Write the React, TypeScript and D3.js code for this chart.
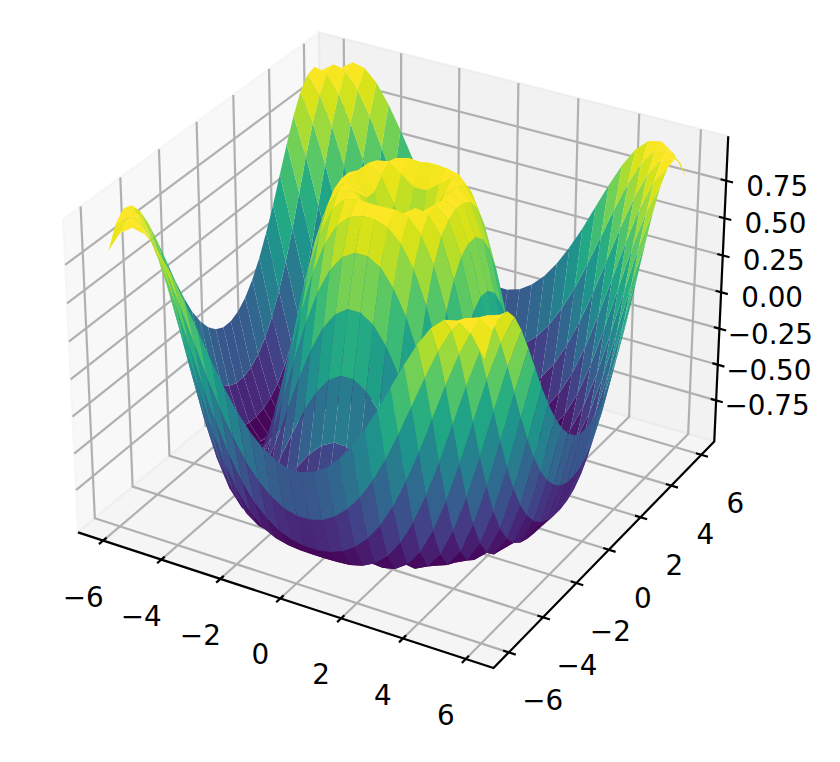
import { useEffect, useRef } from "react";
import * as d3 from "d3";

// grid positions on both horizontal axes
const gridPositions = [
  -6.0, -5.586, -5.172, -4.759, -4.345, -3.931, -3.517, -3.103, -2.69, -2.276,
  -1.862, -1.448, -1.034, -0.621, -0.207, 0.207, 0.621, 1.034, 1.448, 1.862,
  2.276, 2.69, 3.103, 3.517, 3.931, 4.345, 4.759, 5.172, 5.586, 6.0,
];

// surface heights for one quadrant, centre outwards; the surface mirrors around 0
const quadrantHeights = [
  [0.288, 0.608, 0.87, 0.994, 0.954, 0.756, 0.43, 0.032, -0.372, -0.714, -0.935, -0.999, -0.894, -0.639, -0.275],
  [0.608, 0.769, 0.934, 1.0, 0.924, 0.705, 0.373, -0.023, -0.418, -0.745, -0.949, -0.996, -0.879, -0.615, -0.248],
  [0.87, 0.934, 0.994, 0.978, 0.848, 0.598, 0.258, -0.129, -0.5, -0.799, -0.97, -0.988, -0.847, -0.566, -0.193],
  [0.994, 1.0, 0.978, 0.888, 0.705, 0.43, 0.087, -0.28, -0.614, -0.868, -0.991, -0.966, -0.791, -0.49, -0.11],
  [0.954, 0.924, 0.848, 0.705, 0.486, 0.199, -0.129, -0.459, -0.745, -0.935, -1.0, -0.922, -0.707, -0.385, -0.001],
  [0.756, 0.705, 0.598, 0.43, 0.199, -0.077, -0.372, -0.65, -0.868, -0.986, -0.981, -0.847, -0.591, -0.248, 0.134],
  [0.43, 0.373, 0.258, 0.087, -0.129, -0.372, -0.614, -0.823, -0.96, -0.999, -0.922, -0.729, -0.438, -0.083, 0.285],
  [0.032, -0.023, -0.129, -0.28, -0.459, -0.65, -0.823, -0.949, -0.999, -0.956, -0.81, -0.566, -0.248, 0.107, 0.455],
  [-0.372, -0.418, -0.5, -0.614, -0.745, -0.868, -0.96, -0.999, -0.966, -0.847, -0.639, -0.358, -0.028, 0.313, 0.622],
  [-0.714, -0.745, -0.799, -0.868, -0.935, -0.986, -0.999, -0.956, -0.847, -0.662, -0.412, -0.11, 0.212, 0.521, 0.777],
  [-0.935, -0.949, -0.97, -0.991, -1.0, -0.981, -0.922, -0.81, -0.639, -0.412, -0.138, 0.16, 0.455, 0.714, 0.902],
  [-0.999, -0.996, -0.988, -0.966, -0.922, -0.847, -0.729, -0.566, -0.358, -0.11, 0.16, 0.432, 0.678, 0.871, 0.98],
  [-0.894, -0.879, -0.847, -0.791, -0.707, -0.591, -0.438, -0.248, -0.028, 0.212, 0.455, 0.678, 0.858, 0.971, 0.999],
  [-0.639, -0.615, -0.566, -0.49, -0.385, -0.248, -0.083, 0.107, 0.313, 0.521, 0.714, 0.871, 0.971, 0.999, 0.94],
  [-0.275, -0.248, -0.193, -0.11, -0.001, 0.134, 0.285, 0.455, 0.622, 0.777, 0.902, 0.98, 0.999, 0.94, 0.806],
];

const xyTicks = [-6, -4, -2, 0, 2, 4, 6];
const zTicks = [-0.75, -0.5, -0.25, 0, 0.25, 0.5, 0.75];

const XY_MIN = -6.875;
const XY_MAX = 6.875;
const Z_MIN = -1.042;
const Z_MAX = 1.042;

type Point3 = [number, number, number];

// data -> world box, 4:4:3 like a default mplot3d axes
const worldX = d3.scaleLinear().domain([XY_MIN, XY_MAX]).range([-0.595, 0.595]);
const worldY = d3.scaleLinear().domain([XY_MIN, XY_MAX]).range([-0.595, 0.595]);
const worldZ = d3.scaleLinear().domain([Z_MIN, Z_MAX]).range([-0.446, 0.446]);

// projected plane -> pixels
const screenX = d3.scaleLinear().domain([-0.1, 0.1]).range([2, 802]);
const screenY = d3.scaleLinear().domain([-0.1, 0.1]).range([735, -65]);

// elev 30, azim -60, camera distance 10
const elev = (30 * Math.PI) / 180;
const azim = (-60 * Math.PI) / 180;
const viewW: Point3 = [Math.cos(elev) * Math.cos(azim), Math.cos(elev) * Math.sin(azim), Math.sin(elev)];
const viewU: Point3 = [-Math.sin(azim), Math.cos(azim), 0];
const viewV: Point3 = [
  viewW[1] * viewU[2] - viewW[2] * viewU[1],
  viewW[2] * viewU[0] - viewW[0] * viewU[2],
  viewW[0] * viewU[1] - viewW[1] * viewU[0],
];
const dot = (a: Point3, b: Point3) => a[0] * b[0] + a[1] * b[1] + a[2] * b[2];

function project([x, y, z]: Point3) {
  const p: Point3 = [worldX(x), worldY(y), worldZ(z)];
  const depth = 10 - dot(p, viewW);
  return {
    sx: screenX(dot(p, viewU) / depth),
    sy: screenY(dot(p, viewV) / depth),
    depth,
  };
}

const polyPath = (pts: Point3[]) =>
  d3.line()(pts.map((p) => {
    const q = project(p);
    return [q.sx, q.sy] as [number, number];
  })) + "Z";

const heightAt = (i: number, j: number) => {
  const q = (k: number) => (k < 15 ? 14 - k : k - 15);
  return quadrantHeights[q(j)][q(i)];
};

export default function App() {
  const svgRef = useRef<SVGSVGElement | null>(null);

  useEffect(() => {
    if (!svgRef.current) return;
    const svg = d3.select(svgRef.current);
    svg.selectAll("*").remove();

    // Panes
    const panes: { pts: Point3[]; color: string }[] = [
      {
        pts: [
          [XY_MIN, XY_MIN, Z_MIN],
          [XY_MIN, XY_MAX, Z_MIN],
          [XY_MIN, XY_MAX, Z_MAX],
          [XY_MIN, XY_MIN, Z_MAX],
        ],
        color: "rgba(242,242,242,0.5)",
      },
      {
        pts: [
          [XY_MIN, XY_MAX, Z_MIN],
          [XY_MAX, XY_MAX, Z_MIN],
          [XY_MAX, XY_MAX, Z_MAX],
          [XY_MIN, XY_MAX, Z_MAX],
        ],
        color: "rgba(230,230,230,0.5)",
      },
      {
        pts: [
          [XY_MIN, XY_MIN, Z_MIN],
          [XY_MAX, XY_MIN, Z_MIN],
          [XY_MAX, XY_MAX, Z_MIN],
          [XY_MIN, XY_MAX, Z_MIN],
        ],
        color: "rgba(236,236,236,0.5)",
      },
    ];
    panes.forEach((pane) => {
      svg
        .append("path")
        .attr("d", polyPath(pane.pts))
        .attr("fill", pane.color)
        .attr("stroke", pane.color)
        .attr("stroke-width", 2.2);
    });

    // Grid
    const gridLine = (pts: Point3[]) => {
      const d = d3.line()(pts.map((p) => {
        const q = project(p);
        return [q.sx, q.sy] as [number, number];
      }));
      svg
        .append("path")
        .attr("d", d)
        .attr("fill", "none")
        .attr("stroke", "#b0b0b0")
        .attr("stroke-width", 2.2);
    };
    xyTicks.forEach((t) => {
      gridLine([[t, XY_MIN, Z_MIN], [t, XY_MAX, Z_MIN], [t, XY_MAX, Z_MAX]]);
      gridLine([[XY_MAX, t, Z_MIN], [XY_MIN, t, Z_MIN], [XY_MIN, t, Z_MAX]]);
    });
    zTicks.forEach((t) => {
      gridLine([[XY_MAX, XY_MAX, t], [XY_MIN, XY_MAX, t], [XY_MIN, XY_MIN, t]]);
    });

    // Axis lines and ticks
    const inkLine = (pts: Point3[]) => {
      const d = d3.line()(pts.map((p) => {
        const q = project(p);
        return [q.sx, q.sy] as [number, number];
      }));
      svg
        .append("path")
        .attr("d", d)
        .attr("fill", "none")
        .attr("stroke", "#000")
        .attr("stroke-width", 2.2);
    };
    inkLine([[XY_MIN, XY_MIN, Z_MIN], [XY_MAX, XY_MIN, Z_MIN], [XY_MAX, XY_MAX, Z_MIN], [XY_MAX, XY_MAX, Z_MAX]]);

    const tickOut = 0.22;
    const tickIn = 0.18;
    xyTicks.forEach((t) => {
      inkLine([[t, XY_MIN - tickOut, Z_MIN], [t, XY_MIN + tickIn, Z_MIN]]);
      inkLine([[XY_MAX + tickOut, t, Z_MIN], [XY_MAX - tickIn, t, Z_MIN]]);
    });
    zTicks.forEach((t) => {
      inkLine([[XY_MAX + tickOut, XY_MAX, t], [XY_MAX - tickIn, XY_MAX, t]]);
    });

    // Tick labels
    const label = (p: Point3, dx: number, dy: number, text: string) => {
      const q = project(p);
      svg
        .append("text")
        .attr("x", q.sx + dx)
        .attr("y", q.sy + dy)
        .attr("dy", "0.36em")
        .attr("text-anchor", "middle")
        .attr("font-family", "DejaVu Sans")
        .attr("font-size", 27.8)
        .attr("fill", "#000")
        .text(text);
    };
    const intFormat = d3.format("d");
    const zFormat = d3.format(".2f");
    xyTicks.forEach((t) => {
      label([t, XY_MIN, Z_MIN], -20, 56, intFormat(t));
      label([XY_MAX, t, Z_MIN], 34, 48, intFormat(t));
    });
    zTicks.forEach((t) => {
      label([XY_MAX, XY_MAX, t], 51, 5, zFormat(t));
    });

    // Surface facets, far ones first
    const faces: { pts: Point3[]; avg: number; depth: number }[] = [];
    for (let j = 0; j < gridPositions.length - 1; j++) {
      for (let i = 0; i < gridPositions.length - 1; i++) {
        const pts: Point3[] = [
          [gridPositions[i], gridPositions[j], heightAt(i, j)],
          [gridPositions[i + 1], gridPositions[j], heightAt(i + 1, j)],
          [gridPositions[i + 1], gridPositions[j + 1], heightAt(i + 1, j + 1)],
          [gridPositions[i], gridPositions[j + 1], heightAt(i, j + 1)],
        ];
        faces.push({
          pts,
          avg: d3.mean(pts, (p) => p[2]) as number,
          depth: d3.mean(pts, (p) => project(p).depth) as number,
        });
      }
    }
    faces.sort((a, b) => b.depth - a.depth);

    const color = d3
      .scaleSequential(d3.interpolateViridis)
      .domain(d3.extent(faces, (f) => f.avg) as [number, number]);

    svg
      .append("g")
      .selectAll("path")
      .data(faces)
      .enter()
      .append("path")
      .attr("d", (f) => polyPath(f.pts))
      .attr("fill", (f) => color(f.avg));
  }, []);

  return (
    <svg
      ref={svgRef}
      width={840}
      height={762}
      style={{ position: "absolute", left: 0, top: 0, background: "#fff" }}
    />
  );
}
